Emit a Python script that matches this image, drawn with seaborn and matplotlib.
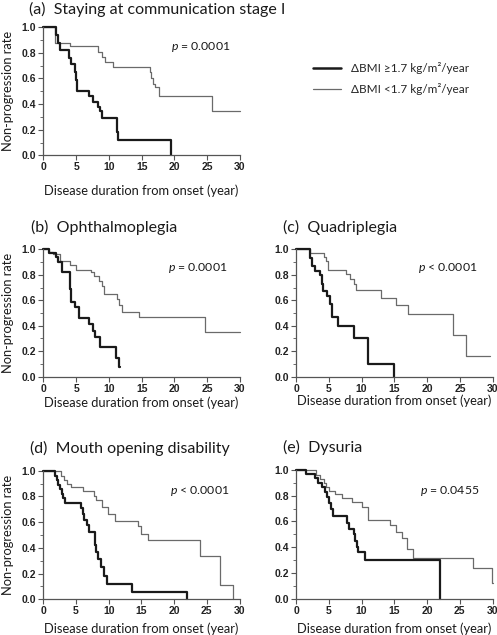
import matplotlib
matplotlib.use("Agg")
import matplotlib.pyplot as plt
import seaborn as sns
import pandas as pd
from matplotlib.lines import Line2D

# group labels
group_labels = ["ΔBMI ≥1.7 kg/m²/year", "ΔBMI <1.7 kg/m²/year"]

panel_titles = [
    "(a)  Staying at communication stage I",
    "(b)  Ophthalmoplegia",
    "(c)  Quadriplegia",
    "(d)  Mouth opening disability",
    "(e)  Dysuria",
]
p_values = ["= 0.0001", "= 0.0001", "< 0.0001", "< 0.0001", "= 0.0455"]

# (a) staying at communication stage I
a_hi_time = [0, 2.0, 2.3, 2.6, 3.9, 4.3, 4.8, 5.0, 5.2, 7.0, 7.6, 8.3, 8.6, 9.0, 11.2, 11.4, 19.5]
a_hi_rate = [1.0, 0.94, 0.88, 0.82, 0.76, 0.71, 0.65, 0.59, 0.50, 0.46, 0.42, 0.38, 0.35, 0.29, 0.18, 0.12, 0.0]
a_lo_time = [0, 1.8, 4.0, 8.4, 8.9, 9.4, 10.6, 16.2, 16.5, 16.8, 17.0, 17.6, 25.7, 30.0]
a_lo_rate = [1.0, 0.88, 0.85, 0.81, 0.77, 0.73, 0.69, 0.65, 0.60, 0.56, 0.53, 0.46, 0.35, 0.35]

# (b) ophthalmoplegia
b_hi_time = [0, 0.8, 2.0, 2.3, 2.8, 4.0, 4.1, 4.2, 4.3, 4.9, 5.4, 7.0, 7.6, 7.9, 8.7, 11.1, 11.6, 11.65]
b_hi_rate = [1.0, 0.97, 0.94, 0.90, 0.82, 0.75, 0.69, 0.63, 0.59, 0.55, 0.46, 0.41, 0.36, 0.31, 0.23, 0.15, 0.08, 0.08]
b_lo_time = [0, 0.8, 1.5, 2.5, 4.0, 5.0, 7.2, 7.7, 8.5, 9.0, 9.3, 11.2, 11.5, 12.0, 14.6, 24.7, 30.0]
b_lo_rate = [1.0, 0.98, 0.96, 0.91, 0.88, 0.84, 0.82, 0.79, 0.75, 0.71, 0.65, 0.61, 0.56, 0.51, 0.47, 0.35, 0.35]

# (c) quadriplegia
c_hi_time = [0, 2.1, 2.4, 2.9, 3.6, 3.9, 4.1, 4.8, 5.2, 5.5, 6.4, 8.9, 11.0, 15.0]
c_hi_rate = [1.0, 0.93, 0.87, 0.83, 0.80, 0.73, 0.67, 0.63, 0.57, 0.47, 0.40, 0.30, 0.10, 0.0]
c_lo_time = [0, 2.2, 4.2, 4.6, 4.9, 7.6, 8.2, 8.8, 9.2, 12.9, 15.2, 17.1, 23.9, 26.0, 29.6]
c_lo_rate = [1.0, 0.97, 0.94, 0.91, 0.84, 0.81, 0.77, 0.73, 0.68, 0.62, 0.56, 0.49, 0.33, 0.16, 0.16]

# (d) mouth opening disability
d_hi_time = [0, 1.8, 2.1, 2.3, 2.6, 2.8, 3.0, 3.3, 5.7, 6.0, 6.2, 6.7, 7.0, 7.9, 8.0, 8.3, 8.8, 9.3, 9.7, 13.6, 22.0]
d_hi_rate = [1.0, 0.96, 0.93, 0.89, 0.86, 0.82, 0.79, 0.75, 0.71, 0.66, 0.62, 0.58, 0.52, 0.42, 0.37, 0.31, 0.25, 0.18, 0.12, 0.06, 0.0]
d_lo_time = [0, 2.7, 3.2, 3.6, 4.3, 6.1, 7.7, 8.1, 8.9, 9.9, 10.9, 14.5, 15.0, 16.0, 24.0, 27.0, 29.0]
d_lo_rate = [1.0, 0.96, 0.93, 0.90, 0.87, 0.84, 0.80, 0.77, 0.72, 0.66, 0.61, 0.57, 0.51, 0.46, 0.34, 0.11, 0.0]

# (e) dysuria
e_hi_time = [0, 1.5, 2.9, 3.4, 3.9, 4.4, 4.7, 5.0, 5.3, 5.7, 7.8, 8.1, 8.9, 9.0, 9.3, 9.5, 10.5, 22.0]
e_hi_rate = [1.0, 0.97, 0.94, 0.90, 0.87, 0.83, 0.79, 0.74, 0.70, 0.64, 0.59, 0.54, 0.50, 0.45, 0.40, 0.36, 0.30, 0.0]
e_lo_time = [0, 3.0, 3.6, 4.2, 4.6, 5.1, 6.0, 7.0, 8.5, 10.0, 11.0, 14.3, 15.2, 16.2, 17.0, 17.9, 27.0, 29.9, 30.0]
e_lo_rate = [1.0, 0.96, 0.93, 0.90, 0.87, 0.84, 0.81, 0.78, 0.75, 0.71, 0.61, 0.57, 0.52, 0.47, 0.39, 0.32, 0.24, 0.12, 0.12]

curves = [
    (a_hi_time, a_hi_rate, a_lo_time, a_lo_rate),
    (b_hi_time, b_hi_rate, b_lo_time, b_lo_rate),
    (c_hi_time, c_hi_rate, c_lo_time, c_lo_rate),
    (d_hi_time, d_hi_rate, d_lo_time, d_lo_rate),
    (e_hi_time, e_hi_rate, e_lo_time, e_lo_rate),
]

sns.set_style("ticks")
plt.rcParams["font.family"] = ["Lato", "DejaVu Sans"]
plt.rcParams["mathtext.fontset"] = "custom"
plt.rcParams["mathtext.it"] = "Lato:italic"
plt.rcParams["mathtext.rm"] = "Lato"

W, H = 497, 635
fig = plt.figure(figsize=(W / 100, H / 100), dpi=100)

# axes boxes in pixels: left, top(1.0), right(30), bottom(0.0)
boxes = [
    (43.3, 27.3, 240.0, 155.3),
    (43.3, 249.3, 240.0, 376.7),
    (296.0, 249.3, 492.7, 376.7),
    (43.3, 470.7, 239.5, 599.3),
    (296.0, 470.0, 492.5, 598.7),
]
title_pos = [(29, 9), (31, 227), (283, 227), (30, 448), (283, 447)]
xlabel_y = [191, 403, 401, 629, 629]
p_pos = [(170.7, 47), (168, 268), (418, 268), (170, 491), (420, 491)]
tick_font = dict(family="Liberation Sans", weight="bold", size=7.5)
spine_col = "#555555"

axes = []
for i, (l, t, r, b) in enumerate(boxes):
    ax = fig.add_axes([l / W, 1 - b / H, (r - l) / W, (b - t) / H])
    axes.append(ax)
    hi_t, hi_r, lo_t, lo_r = curves[i]
    df_hi = pd.DataFrame({"time": hi_t, "rate": hi_r})
    df_lo = pd.DataFrame({"time": lo_t, "rate": lo_r})
    sns.lineplot(data=df_lo, x="time", y="rate", ax=ax, estimator=None,
                 drawstyle="steps-post", color="#6a6a6a", linewidth=0.9, clip_on=False)
    sns.lineplot(data=df_hi, x="time", y="rate", ax=ax, estimator=None,
                 drawstyle="steps-post", color="#1a1a1a", linewidth=1.6, clip_on=False)
    ax.set_xlim(0, 30)
    ax.set_ylim(0, 1.0)
    ax.set_xticks([0, 5, 10, 15, 20, 25, 30])
    ax.set_yticks([0.0, 0.2, 0.4, 0.6, 0.8, 1.0])
    ax.set_yticks([0.1, 0.3, 0.5, 0.7, 0.9], minor=True)
    ax.set_xticklabels(["0", "5", "10", "15", "20", "25", "30"], **tick_font, color="#222222")
    ax.set_yticklabels(["0.0", "0.2", "0.4", "0.6", "0.8", "1.0"], **tick_font, color="#222222")
    ax.tick_params(which="major", length=3.5, width=0.8, color=spine_col, pad=1.5)
    ax.tick_params(which="minor", length=2, width=0.6, color=spine_col)
    sns.despine(ax=ax)
    for s in ["left", "bottom"]:
        ax.spines[s].set_color(spine_col)
        ax.spines[s].set_linewidth(0.9)
    ax.set_xlabel("")
    ax.set_ylabel("")

    fig.text(title_pos[i][0] / W, 1 - title_pos[i][1] / H, panel_titles[i],
             fontsize=11.5, ha="left", va="center", color="#1a1a1a")
    fig.text((l + r) / 2 / W, 1 - xlabel_y[i] / H, "Disease duration from onset (year)",
             fontsize=9.3, ha="center", va="center", color="#1a1a1a")
    if l < 100:
        fig.text(8 / W, 1 - (t + b) / 2 / H, "Non-progression rate", rotation=90,
                 fontsize=9.3, ha="center", va="center", color="#1a1a1a")
    fig.text(p_pos[i][0] / W, 1 - p_pos[i][1] / H, r"$\it{p}$ " + p_values[i],
             fontsize=8.8, ha="left", va="center", color="#1a1a1a")

handles = [
    Line2D([], [], color="#1a1a1a", linewidth=1.8),
    Line2D([], [], color="#6a6a6a", linewidth=0.9),
]
fig.legend(handles, group_labels, loc="upper left", bbox_to_anchor=(313 / W, 1 - 62 / H),
           frameon=False, fontsize=8.5, handlelength=2.4, handletextpad=0.8,
           labelspacing=0.75, borderpad=0, borderaxespad=0)

fig.savefig("out.png", dpi=100)
